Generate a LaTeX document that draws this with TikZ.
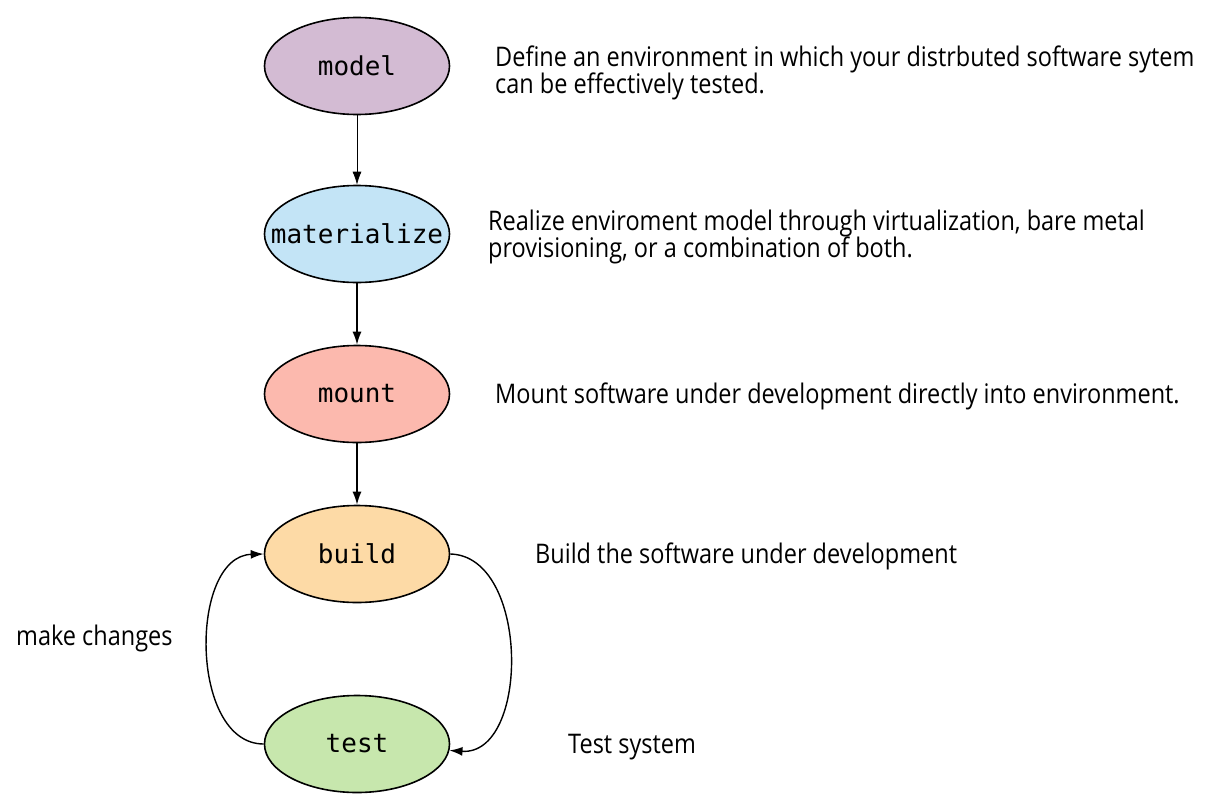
\documentclass[tikz,border=0pt]{standalone}
\usepackage{fontspec}
\setmainfont{Open Sans}
\newfontfamily\descfont[FakeStretch=0.87]{Open Sans}
\newfontfamily\monof{DejaVu Sans Mono}
\usetikzlibrary{arrows.meta,shapes.geometric}
\definecolor{cmodel}{HTML}{D3BBD3}
\definecolor{cmat}{HTML}{C3E4F6}
\definecolor{cmount}{HTML}{FCB9AE}
\definecolor{cbuild}{HTML}{FDDAA6}
\definecolor{ctest}{HTML}{C7E7AD}
\tikzset{
  stage/.style={ellipse, draw=black, line width=1.6pt, minimum width=185pt, minimum height=97pt, inner sep=0pt, font=\monof\fontsize{26}{30}\selectfont},
  desc/.style={anchor=base west, inner sep=0pt, font=\descfont\fontsize{27}{27}\selectfont},
  conn/.style={line width=1.4pt, -{Latex[length=13pt,width=9pt]}},
}
\begin{document}
\begin{tikzpicture}[x=1pt,y=-1pt]
\useasboundingbox (0,0) rectangle (1212,811);
\node[stage, fill=cmodel] (model) at (357,66) {\makebox[0pt]{model}};
\node[stage, fill=cmat] (mat) at (357,234) {\makebox[0pt]{materialize}};
\node[stage, fill=cmount] (mount) at (357,394) {\makebox[0pt]{mount}};
\node[stage, fill=cbuild] (build) at (357,554) {\makebox[0pt]{build}};
\node[stage, fill=ctest] (test) at (357,744) {\makebox[0pt]{test}};

\draw[conn, line width=0.8pt] (model) -- (mat);
\draw[conn] (mat) -- (mount);
\draw[conn] (mount) -- (build);
\draw[conn] (build.east) .. controls (530,556) and (530,756) .. (test.-4);
\draw[conn] (test.west) .. controls (189,744) and (189,556) .. (build.west);

\node[desc] (d1a) at (495,66) {Define an environment in which your distrbuted software sytem};
\node[desc] (d1b) at (495,93) {can be effectively tested.};
\node[desc] (d2a) at (488,230) {Realize enviroment model through virtualization, bare metal};
\node[desc] (d2b) at (488,257) {provisioning, or a combination of both.};
\node[desc] (d3) at (495,403) {Mount software under development directly into environment.};
\node[desc] (d4) at (535,563) {Build the software under development};
\node[desc] (d5) at (568,753) {Test system};
\node[desc] (d6) at (16,645) {make changes};
\end{tikzpicture}
\end{document}
